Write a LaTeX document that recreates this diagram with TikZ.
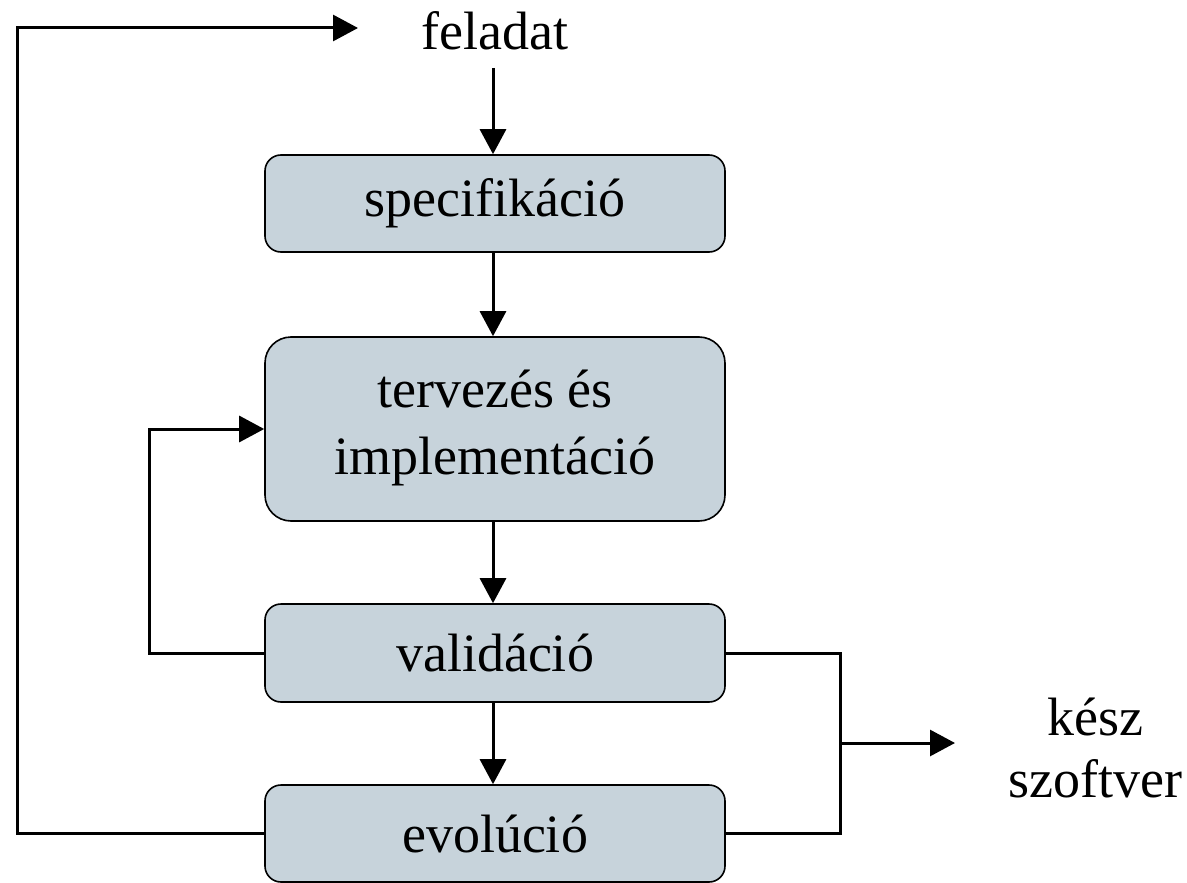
\documentclass[tikz,border=0pt]{standalone}
\usepackage{fontspec}
\setmainfont{Liberation Serif}
\usetikzlibrary{arrows.meta}
\definecolor{boxfill}{HTML}{C7D3DB}
\begin{document}
\begin{tikzpicture}[x=1pt,y=-1pt,
  every node/.style={font=\fontsize{54}{62}\selectfont},
  procbox/.style={draw=black,line width=1.6pt,fill=boxfill,rounded corners=16pt,
    minimum width=460pt,inner sep=0pt,align=center},
  conn/.style={line width=3pt},
  arr/.style={conn,-{Triangle[length=25pt,width=26pt]}}]
\useasboundingbox (0,0) rectangle (1187,883);
\node[procbox,minimum height=97pt] (spec) at (495,203.5) {specifikáció};
\node[procbox,minimum height=184pt,rounded corners=26pt] (terv) at (495,429)
  {\raisebox{-7pt}{\begin{tabular}{@{}c@{}}tervezés és\\[5pt]implementáció\end{tabular}}};
\node[procbox,minimum height=98pt] (valid) at (495,653) {validáció};
\node[procbox,minimum height=97pt] (evol) at (495,833.5) {evolúció};
\node[anchor=base,inner sep=0pt] (feladat) at (495,50) {feladat};
\node[align=center,inner sep=0pt] (kesz) at (1095,748) {kész\\szoftver};
\coordinate (fin) at (493,68);
\coordinate (fleft) at (358,28);
\coordinate (jn) at (840,743);
\coordinate (kout) at (955,743);
\draw[arr] (fin) -- (spec.north -| fin);
\draw[arr] (spec.south -| fin) -- (terv.north -| fin);
\draw[arr] (terv.south -| fin) -- (valid.north -| fin);
\draw[arr] (valid.south -| fin) -- (evol.north -| fin);
\draw[arr] (valid.west) -- ++(-115,0) |- (terv.west);
\draw[arr] (evol.west) -- ++(-247,0) |- (fleft);
\draw[conn] (valid.east) -- ++(115,0) |- (evol.east);
\draw[arr] (jn) -- (kout);
\end{tikzpicture}
\end{document}
